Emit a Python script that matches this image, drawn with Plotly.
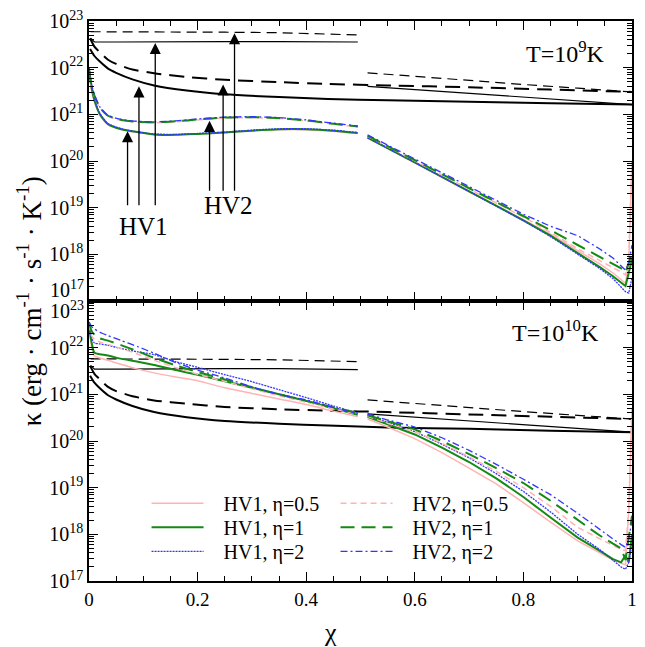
import numpy as np
import plotly.graph_objects as go
from plotly.subplots import make_subplots

# ---------------- data (log10 of kappa) ----------------
chi_left = [0.0, 0.005, 0.01, 0.02, 0.035, 0.06, 0.09, 0.12, 0.16, 0.2, 0.25, 0.3, 0.35, 0.4, 0.45, 0.495]
chi_right = [0.513, 0.55, 0.6, 0.65, 0.7, 0.75, 0.8, 0.85, 0.9, 0.94, 0.965, 0.98, 0.988, 0.994, 1.0]

# T = 1e9 K panel
top_hv1_e05_L = [21.90, 21.50, 21.27, 20.98, 20.78, 20.67, 20.61, 20.57, 20.56, 20.58, 20.61, 20.65, 20.67, 20.67, 20.64, 20.59]
top_hv1_e1_L = [21.95, 21.55, 21.30, 21.00, 20.79, 20.68, 20.62, 20.57, 20.56, 20.58, 20.61, 20.65, 20.68, 20.68, 20.65, 20.60]
top_hv1_e2_L = [22.00, 21.58, 21.33, 21.02, 20.80, 20.69, 20.62, 20.58, 20.57, 20.59, 20.62, 20.66, 20.69, 20.69, 20.66, 20.61]
top_hv2_e05_L = [21.92, 21.58, 21.38, 21.14, 20.96, 20.87, 20.83, 20.82, 20.84, 20.88, 20.92, 20.93, 20.91, 20.86, 20.79, 20.73]
top_hv2_e1_L = [21.95, 21.60, 21.40, 21.15, 20.97, 20.88, 20.84, 20.83, 20.85, 20.89, 20.93, 20.94, 20.92, 20.87, 20.80, 20.74]
top_hv2_e2_L = [22.00, 21.63, 21.42, 21.16, 20.98, 20.89, 20.85, 20.84, 20.86, 20.90, 20.94, 20.95, 20.93, 20.88, 20.81, 20.75]

top_hv1_e05_R = [20.49, 20.27, 19.96, 19.65, 19.34, 19.05, 18.74, 18.43, 18.08, 17.80, 17.60, 17.45, 17.38, 17.80, 20.00]
top_hv1_e1_R = [20.50, 20.28, 19.97, 19.66, 19.35, 19.05, 18.73, 18.40, 18.03, 17.73, 17.53, 17.40, 17.32, 17.60, 17.90]
top_hv1_e2_R = [20.50, 20.28, 19.97, 19.66, 19.35, 19.04, 18.72, 18.38, 18.00, 17.70, 17.48, 17.30, 17.20, 17.17, 17.50]
top_hv2_e05_R = [20.53, 20.31, 20.00, 19.70, 19.40, 19.10, 18.80, 18.47, 18.12, 17.87, 17.72, 17.62, 17.56, 17.90, 20.00]
top_hv2_e1_R = [20.54, 20.32, 20.01, 19.71, 19.41, 19.12, 18.82, 18.52, 18.20, 17.95, 17.80, 17.70, 17.62, 17.80, 18.00]
top_hv2_e2_R = [20.56, 20.34, 20.04, 19.74, 19.45, 19.16, 18.86, 18.60, 18.40, 18.12, 17.92, 17.75, 17.66, 17.80, 18.20]

# T = 1e10 K panel
bot_hv1_e05_L = [22.40, 22.00, 21.82, 21.78, 21.73, 21.64, 21.54, 21.46, 21.37, 21.29, 21.14, 21.02, 20.90, 20.78, 20.64, 20.52]
bot_hv1_e1_L = [22.45, 22.10, 21.89, 21.86, 21.83, 21.76, 21.70, 21.63, 21.52, 21.42, 21.28, 21.14, 21.00, 20.86, 20.70, 20.56]
bot_hv1_e2_L = [22.50, 22.20, 22.10, 22.08, 22.05, 21.98, 21.91, 21.85, 21.70, 21.58, 21.42, 21.27, 21.10, 20.93, 20.75, 20.60]
bot_hv2_e05_L = [22.50, 22.25, 22.18, 22.12, 22.07, 21.98, 21.86, 21.73, 21.57, 21.43, 21.28, 21.12, 20.97, 20.83, 20.69, 20.57]
bot_hv2_e1_L = [22.55, 22.35, 22.28, 22.20, 22.15, 22.05, 21.92, 21.78, 21.62, 21.48, 21.32, 21.15, 21.00, 20.86, 20.72, 20.60]
bot_hv2_e2_L = [22.55, 22.45, 22.40, 22.33, 22.26, 22.15, 22.02, 21.88, 21.68, 21.52, 21.35, 21.16, 21.00, 20.88, 20.72, 20.58]

bot_hv1_e05_R = [20.47, 20.30, 20.05, 19.75, 19.42, 19.08, 18.68, 18.26, 17.86, 17.60, 17.45, 17.38, 17.35, 18.50, 20.70]
bot_hv1_e1_R = [20.52, 20.36, 20.14, 19.86, 19.55, 19.20, 18.80, 18.36, 17.93, 17.65, 17.47, 17.40, 17.55, 17.40, 18.00]
bot_hv1_e2_R = [20.55, 20.40, 20.20, 19.93, 19.64, 19.30, 18.92, 18.48, 18.00, 17.68, 17.45, 17.30, 17.25, 17.40, 17.80]
bot_hv2_e05_R = [20.53, 20.38, 20.20, 19.95, 19.66, 19.35, 19.00, 18.60, 18.15, 17.90, 17.76, 17.68, 17.65, 18.50, 20.70]
bot_hv2_e1_R = [20.55, 20.42, 20.25, 20.00, 19.72, 19.42, 19.10, 18.72, 18.30, 17.98, 17.80, 17.70, 17.45, 17.90, 18.40]
bot_hv2_e2_R = [20.58, 20.45, 20.30, 20.07, 19.80, 19.50, 19.18, 18.85, 18.45, 18.10, 17.90, 17.78, 17.72, 17.90, 18.30]

# black reference curves
thick_chi = [0.002, 0.01, 0.02, 0.035, 0.05, 0.08, 0.12, 0.18, 0.25, 0.35, 0.44, 0.55, 0.7, 0.85, 1.0]
top_thick_solid = [22.40, 22.25, 22.13, 21.98, 21.89, 21.75, 21.62, 21.51, 21.43, 21.37, 21.33, 21.30, 21.27, 21.24, 21.21]
top_thick_dash = [22.63, 22.45, 22.33, 22.17, 22.08, 21.96, 21.88, 21.80, 21.74, 21.69, 21.65, 21.62, 21.58, 21.53, 21.48]
bot_thick_solid = [21.40, 21.25, 21.13, 20.98, 20.89, 20.75, 20.62, 20.51, 20.43, 20.37, 20.33, 20.29, 20.26, 20.22, 20.19]
bot_thick_dash = [21.61, 21.44, 21.32, 21.16, 21.07, 20.96, 20.87, 20.80, 20.73, 20.68, 20.65, 20.62, 20.57, 20.52, 20.47]

thin_chi_L = [0.003, 0.01, 0.05, 0.15, 0.25, 0.35, 0.45, 0.495]
thin_chi_R = [0.513, 0.6, 0.7, 0.8, 0.9, 1.0]
top_thin_solid_L = [22.63, 22.55, 22.55, 22.56, 22.56, 22.56, 22.55, 22.55]
top_thin_solid_R = [21.60, 21.53, 21.45, 21.37, 21.29, 21.21]
top_thin_dash_L = [22.77, 22.77, 22.77, 22.77, 22.76, 22.75, 22.72, 22.70]
top_thin_dash_R = [21.89, 21.81, 21.73, 21.64, 21.56, 21.48]
bot_thin_solid_L = [21.62, 21.54, 21.54, 21.55, 21.55, 21.55, 21.54, 21.53]
bot_thin_solid_R = [20.58, 20.51, 20.43, 20.35, 20.27, 20.19]
bot_thin_dash_L = [21.76, 21.76, 21.76, 21.76, 21.75, 21.74, 21.72, 21.70]
bot_thin_dash_R = [20.88, 20.80, 20.72, 20.63, 20.55, 20.47]

# arrows (chi, tip log10, tail log10)
hv1_arrow_chi = [0.071, 0.092, 0.122]
hv1_arrow_tip = [20.64, 21.60, 22.53]
hv2_arrow_chi = [0.222, 0.247, 0.268]
hv2_arrow_tip = [20.86, 21.64, 22.74]
hv1_arrow_tail = 19.02
hv2_arrow_tail = 19.33

decades = [17, 18, 19, 20, 21, 22, 23]

# ---------------- figure ----------------
FONT = "Liberation Serif, Times New Roman, serif"
PINK = "#ffb3b3"
GREEN = "#138a13"
BLUE = "#3535ff"
PAD = "\u00a0\u00a0\u00a0"

fig = make_subplots(rows=2, cols=1, shared_xaxes=True, vertical_spacing=0)


def P(v):
    return 10 ** np.asarray(v, dtype=float)


def add(row, x, y, color, width, dash="solid", name=None, legend=None, show=False, shape="linear"):
    fig.add_trace(go.Scatter(x=x, y=P(y), mode="lines", name=name,
                             line=dict(color=color, width=width, dash=dash, shape=shape, smoothing=0.6),
                             showlegend=show, legend=legend), row=row, col=1)


# key: colour, width, dash, label, legend id
styles = {
    "hv1_e05": (PINK, 1.5, "solid", "HV1, η=0.5", "legend"),
    "hv1_e1": (GREEN, 2.0, "solid", "HV1, η=1", "legend2"),
    "hv1_e2": (BLUE, 1.3, "2px,1px", "HV1, η=2", "legend3"),
    "hv2_e05": (PINK, 1.5, "6px,4px", "HV2, η=0.5", "legend4"),
    "hv2_e1": (GREEN, 2.0, "14px,7px", "HV2, η=1", "legend5"),
    "hv2_e2": (BLUE, 1.3, "7px,3px,2px,3px", "HV2, η=2", "legend6"),
}

# black curves, both panels
for row, ts, td, tsl, tsr, tdl, tdr in [
    (1, top_thick_solid, top_thick_dash, top_thin_solid_L, top_thin_solid_R, top_thin_dash_L, top_thin_dash_R),
    (2, bot_thick_solid, bot_thick_dash, bot_thin_solid_L, bot_thin_solid_R, bot_thin_dash_L, bot_thin_dash_R),
]:
    add(row, thick_chi, ts, "black", 2.0, shape="spline")
    add(row, thick_chi, td, "black", 2.0, "15px,8px", shape="spline")
    add(row, thin_chi_L, tsl, "black", 1.2)
    add(row, thin_chi_R, tsr, "black", 1.2)
    add(row, thin_chi_L, tdl, "black", 1.2, "10px,6px")
    add(row, thin_chi_R, tdr, "black", 1.2, "10px,6px")

top_series = {
    "hv1_e05": (top_hv1_e05_L, top_hv1_e05_R), "hv1_e1": (top_hv1_e1_L, top_hv1_e1_R),
    "hv1_e2": (top_hv1_e2_L, top_hv1_e2_R), "hv2_e05": (top_hv2_e05_L, top_hv2_e05_R),
    "hv2_e1": (top_hv2_e1_L, top_hv2_e1_R), "hv2_e2": (top_hv2_e2_L, top_hv2_e2_R),
}
bot_series = {
    "hv1_e05": (bot_hv1_e05_L, bot_hv1_e05_R), "hv1_e1": (bot_hv1_e1_L, bot_hv1_e1_R),
    "hv1_e2": (bot_hv1_e2_L, bot_hv1_e2_R), "hv2_e05": (bot_hv2_e05_L, bot_hv2_e05_R),
    "hv2_e1": (bot_hv2_e1_L, bot_hv2_e1_R), "hv2_e2": (bot_hv2_e2_L, bot_hv2_e2_R),
}

for key, (yl, yr) in top_series.items():
    c, w, d, n, lg = styles[key]
    add(1, chi_left, yl, c, w, d, shape="spline")
    add(1, chi_right, yr, c, w, d)
for key, (yl, yr) in bot_series.items():
    c, w, d, n, lg = styles[key]
    add(2, chi_left, yl, c, w, d, name=PAD + n, legend=lg, show=True, shape="spline")
    add(2, chi_right, yr, c, w, d)

# axes
minor_vals = [k * 10.0 ** e for e in decades[:-1] for k in range(2, 10)]
ax_common = dict(showline=True, linecolor="black", linewidth=1.5, mirror="ticks",
                 ticks="inside", tickcolor="black", showgrid=False, zeroline=False)
fig.update_xaxes(range=[0, 1], tick0=0, dtick=0.2, ticklen=9, tickwidth=1.2,
                 minor=dict(dtick=0.05, ticks="inside", ticklen=5, tickcolor="black", tickwidth=1.2),
                 tickfont=dict(family=FONT, size=19, color="black"), **ax_common)
fig.update_xaxes(showticklabels=False, row=1, col=1)

top_text = ["" if e == 17 else f"10<sup>{e}</sup>" for e in decades]
bot_text = ["" if e == 23 else f"10<sup>{e}</sup>" for e in decades]
for row, txt in [(1, top_text), (2, bot_text)]:
    fig.update_yaxes(type="log", range=[17, 23], tickvals=[10.0 ** e for e in decades], ticktext=txt,
                     ticklen=9, tickwidth=1.2,
                     minor=dict(tickvals=minor_vals, ticks="inside", ticklen=5, tickcolor="black", tickwidth=1),
                     tickfont=dict(family=FONT, size=20, color="black"), row=row, col=1, **ax_common)

ann = []
# boundary tick labels
ann.append(dict(text="10<sup>17</sup>", xref="paper", yref="paper", x=-0.006, y=0.521,
                xanchor="right", yanchor="middle", showarrow=False, font=dict(family=FONT, size=20)))
ann.append(dict(text="10<sup>23</sup>", xref="paper", yref="paper", x=-0.006, y=0.484,
                xanchor="right", yanchor="middle", showarrow=False, font=dict(family=FONT, size=20)))
# panel labels
ann.append(dict(text="T=10<sup>9</sup>K", xref="x", yref="y", x=0.878, y=22.34, showarrow=False,
                font=dict(family=FONT, size=24)))
ann.append(dict(text="T=10<sup>10</sup>K", xref="x2", yref="y2", x=0.86, y=22.36, showarrow=False,
                font=dict(family=FONT, size=24)))
ann.append(dict(text="HV1", xref="x", yref="y", x=0.101, y=18.6, showarrow=False,
                font=dict(family=FONT, size=25)))
ann.append(dict(text="HV2", xref="x", yref="y", x=0.257, y=19.05, showarrow=False,
                font=dict(family=FONT, size=25)))
for xs, tips, tail in [(hv1_arrow_chi, hv1_arrow_tip, hv1_arrow_tail), (hv2_arrow_chi, hv2_arrow_tip, hv2_arrow_tail)]:
    for xc, tip in zip(xs, tips):
        ann.append(dict(x=xc, y=tip, ax=xc, ay=tail, xref="x", yref="y", axref="x", ayref="y",
                        text="", showarrow=True, arrowhead=2, arrowsize=1.7, arrowwidth=1.3,
                        arrowcolor="black", standoff=0))
# axis titles
ann.append(dict(text="κ (erg · cm<sup>-1</sup> · s<sup>-1</sup> · K<sup>-1</sup>)", xref="paper", yref="paper",
                x=-0.11, y=0.5, textangle=-90, showarrow=False, xanchor="center", yanchor="middle",
                font=dict(family=FONT, size=27)))
ann.append(dict(text="χ", xref="paper", yref="paper", x=0.445, y=-0.092, showarrow=False,
                xanchor="center", yanchor="middle", font=dict(family=FONT, size=26)))

# six one-entry legends laid out in two columns of three rows
legend_cols = [0.106, 0.454]
legend_rows = [0.139, 0.096, 0.053]
legend_layout = {}
for i, key in enumerate(styles):
    lid = styles[key][4]
    legend_layout[lid] = dict(x=legend_cols[i // 3], y=legend_rows[i % 3], xanchor="left", yanchor="middle",
                              bgcolor="rgba(0,0,0,0)", font=dict(family=FONT, size=20, color="black"),
                              itemwidth=52, borderwidth=0)

fig.update_layout(
    width=645, height=647,
    margin=dict(l=89, r=8, t=16, b=66),
    paper_bgcolor="white", plot_bgcolor="white",
    font=dict(family=FONT, color="black"),
    annotations=ann,
    **legend_layout,
)

fig.write_html("out.html", config={"displayModeBar": False},
               post_script="document.body.style.margin='0px';")
